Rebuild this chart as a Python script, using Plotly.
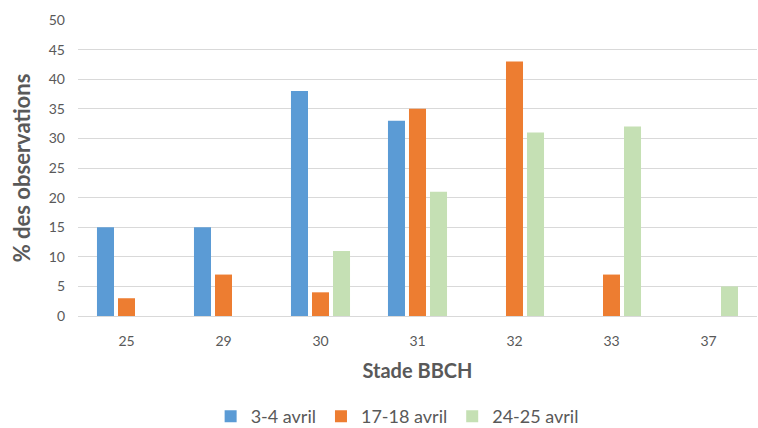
import plotly.graph_objects as go

stades = ["25", "29", "30", "31", "32", "33", "37"]
series_names = ["3-4 avril", "17-18 avril", "24-25 avril"]
avril_3_4 = [15, 15, 38, 33, 0, 0, 0]
avril_17_18 = [3, 7, 4, 35, 43, 7, 0]
avril_24_25 = [0, 0, 11, 21, 31, 32, 5]
colors = ["#5B9BD5", "#ED7D31", "#C5E0B4"]
y_ticks = list(range(0, 51, 5))

fig = go.Figure()
for name, vals, col in zip(series_names, [avril_3_4, avril_17_18, avril_24_25], colors):
    fig.add_trace(go.Bar(x=stades, y=vals, name=name, marker_color=col,
                         marker_line_width=0))

font_family = "Lato, 'Open Sans', sans-serif"
fig.update_layout(
    width=758, height=428,
    margin=dict(l=78, r=1, t=20, b=112, autoexpand=False),
    paper_bgcolor="white", plot_bgcolor="white",
    barmode="group", bargap=0.35, bargroupgap=0.19,
    font=dict(family=font_family, color="#595959", size=14),
    legend=dict(orientation="h", x=0.47, xanchor="center",
                yref="container", y=0.027, yanchor="middle",
                font=dict(size=18, color="#595959"), traceorder="normal",
                itemwidth=30, itemsizing="constant"),
    xaxis=dict(type="category", showline=True, linecolor="#D9D9D9", linewidth=1,
               automargin=False,
               ticks="", ticklabelstandoff=12, tickfont=dict(size=14, color="#595959"),
               title=dict(text="<b>Stade BBCH</b>", font=dict(size=20, color="#595959"),
                          standoff=16)),
    yaxis=dict(range=[0, 50], tickvals=y_ticks, showgrid=True, gridcolor="#D9D9D9",
               gridwidth=1, zeroline=False, ticks="", ticklabelstandoff=12,
               automargin=False,
               tickfont=dict(size=14, color="#595959"),
               title=dict(text="<b>% des observations</b>", font=dict(size=22, color="#595959"),
                          standoff=12)),
)

fig.write_html("out.html")
